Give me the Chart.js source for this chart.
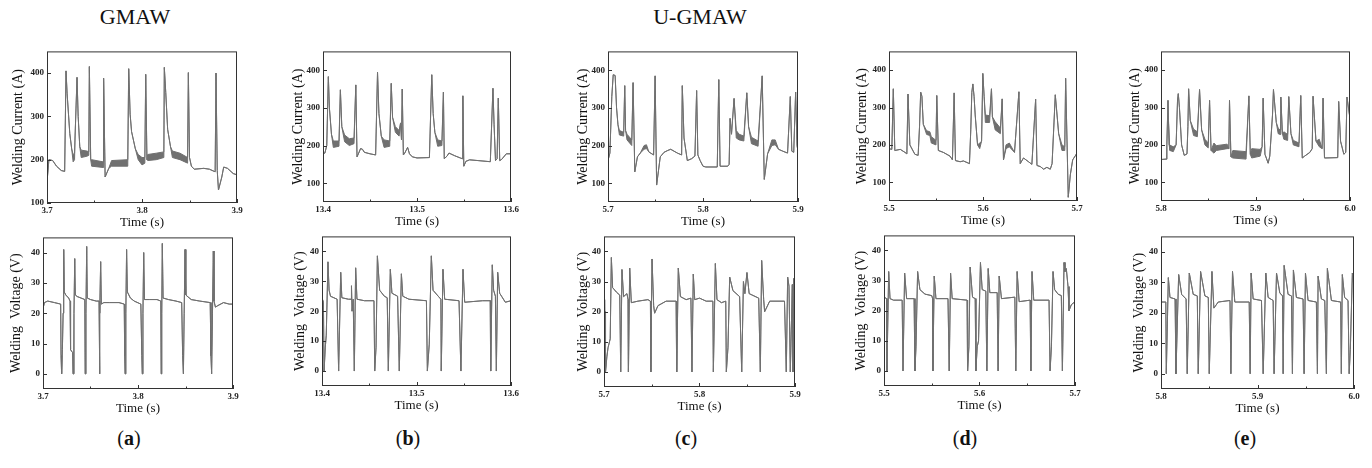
<!DOCTYPE html>
<html>
<head>
<meta charset="utf-8">
<script src="https://cdn.jsdelivr.net/npm/chart.js@4.4.0/dist/chart.umd.min.js"></script>
<style>
  html, body { margin: 0; padding: 0; background: #fff; }
  #page { position: relative; width: 1372px; height: 468px; overflow: hidden; font-family: "Liberation Serif", "DejaVu Serif", serif; color: #111; }
  #page canvas { position: absolute; }
  .head { position: absolute; top: 4px; font-size: 22px; transform: translateX(-50%); white-space: nowrap; }
  .lab { position: absolute; top: 427px; font-size: 20px; transform: translateX(-50%); }
</style>
</head>
<body>
<div id="page">
  <div class="head" style="left:135px">GMAW</div>
  <div class="head" style="left:700px">U-GMAW</div>
  <div class="lab" style="left:129px">(<b>a</b>)</div>
  <div class="lab" style="left:408px">(<b>b</b>)</div>
  <div class="lab" style="left:686px">(<b>c</b>)</div>
  <div class="lab" style="left:965px">(<b>d</b>)</div>
  <div class="lab" style="left:1245px">(<b>e</b>)</div>
</div>
<script>
// tick labels
const curTicks = [100, 200, 300, 400];
const volTicks = [0, 10, 20, 30, 40];
const xTicksA = [3.7, 3.8, 3.9], xMinorA = [3.75, 3.85];
const xTicksB = [13.4, 13.5, 13.6], xMinorB = [13.45, 13.55];
const xTicksC = [5.7, 5.8, 5.9], xMinorC = [5.75, 5.85];
const xTicksD = [5.5, 5.6, 5.7], xMinorD = [5.55, 5.65];
const xTicksE = [5.8, 5.9, 6.0], xMinorE = [5.85, 5.95];

// waveforms: [time, value] or [time, low, high] where the trace is a ripple band
const curA = [[3.700,148],[3.702,200],[3.706,198],[3.710,185],[3.715,175],[3.7186,173],[3.7200,405],[3.7212,352],[3.7240,260],[3.7260,225],[3.7275,195,212],[3.7290,200,215],[3.7295,250],[3.7316,390],[3.7328,300],[3.7345,230],[3.7360,205,222],[3.7420,208,220],[3.7440,210,218],[3.7446,415],[3.7460,200],[3.7470,185,200],[3.7590,182,195],[3.7596,388],[3.7612,160],[3.7650,180],[3.7680,185,198],[3.7850,185,200],[3.7860,410],[3.7875,305],[3.7890,265],[3.7930,225],[3.7960,200,212],[3.8000,188,205],[3.8030,192,205],[3.8039,397],[3.8052,200],[3.8060,198,212],[3.8150,200,215],[3.8230,205,218],[3.8235,413],[3.8250,355],[3.8270,270],[3.8300,230],[3.8320,205,220],[3.8400,200,215],[3.8480,192,205],[3.8488,401],[3.8500,205],[3.8520,185],[3.8550,178],[3.8650,180],[3.8710,178],[3.8770,172],[3.8779,400],[3.8792,175],[3.8805,130],[3.8840,160],[3.8860,183],[3.8900,180],[3.8960,168],[3.9000,165]];
const volA = [[3.7000,21.5],[3.7015,23.5],[3.7050,24],[3.7120,23.5],[3.7186,23],[3.7190,6],[3.7196,0],[3.7204,8],[3.7212,20],[3.7218,41],[3.7224,27],[3.7240,26],[3.7270,25],[3.7285,24],[3.7290,8],[3.7300,7.5],[3.7312,7],[3.7316,0],[3.7326,20],[3.7334,38],[3.7340,26],[3.7360,25.5],[3.7400,25],[3.7440,24.5],[3.7444,0],[3.7452,20],[3.7460,42],[3.7466,25],[3.7500,24.5],[3.7560,24],[3.7590,24],[3.7594,0],[3.7600,20],[3.7607,37],[3.7614,23],[3.7640,23.5],[3.7700,23.5],[3.7800,23.5],[3.7855,23],[3.7860,6],[3.7864,0],[3.7872,20],[3.7880,41],[3.7888,27],[3.7920,25],[3.7960,24],[3.8030,23],[3.8040,6],[3.8045,0],[3.8052,20],[3.8060,40],[3.8068,24.5],[3.8120,24.5],[3.8200,24.5],[3.8240,24],[3.8244,0],[3.8250,20],[3.8256,43],[3.8264,25],[3.8320,24.5],[3.8400,24],[3.8460,23.5],[3.8470,6],[3.8478,0],[3.8486,20],[3.8495,41],[3.8503,26],[3.8560,24.5],[3.8650,24],[3.8760,23.5],[3.8768,6],[3.8775,0],[3.8784,20],[3.8793,40.5],[3.8800,24],[3.8815,22],[3.8840,22.5],[3.8900,23.5],[3.8960,23],[3.9000,23]];
const curB = [[13.400,178],[13.402,180],[13.404,200],[13.4057,383],[13.4068,300],[13.409,230],[13.411,195,212],[13.417,198,212],[13.4185,348],[13.420,250],[13.423,210,228],[13.428,200,218],[13.433,205,220],[13.4349,361],[13.4362,170],[13.438,180],[13.440,192],[13.442,190],[13.444,182],[13.450,178],[13.456,175],[13.458,395],[13.4595,285],[13.462,225],[13.465,195,215],[13.471,198,212],[13.4726,365],[13.474,275],[13.477,235,250],[13.481,225,240],[13.4825,260],[13.4835,215],[13.4843,350],[13.4855,175],[13.487,180],[13.490,195],[13.492,178],[13.495,170],[13.500,167],[13.5132,168],[13.5157,388],[13.5172,285],[13.519,235],[13.522,198,215],[13.5265,200,212],[13.5281,342],[13.529,165],[13.532,172],[13.534,180],[13.540,173],[13.546,167],[13.5482,165],[13.5488,332],[13.5498,145],[13.552,158],[13.556,162],[13.565,160],[13.578,157],[13.5808,352],[13.5820,255],[13.5835,160],[13.5852,165],[13.5865,326],[13.5880,160],[13.590,163],[13.595,178],[13.600,178]];
const volB = [[13.400,24.5],[13.4015,23],[13.4022,0],[13.4035,8],[13.4045,12],[13.4063,36.5],[13.4075,27],[13.409,25],[13.416,24],[13.4176,0],[13.4198,33],[13.421,24.5],[13.428,24],[13.4308,24],[13.4312,28.5],[13.4318,20],[13.4330,24],[13.4342,0],[13.4356,34.5],[13.437,24],[13.445,23.5],[13.455,23.5],[13.4558,0],[13.4572,8],[13.4586,38.5],[13.461,27],[13.466,25],[13.469,24.5],[13.4702,0],[13.4723,34],[13.474,26],[13.480,25],[13.4818,0],[13.484,32.5],[13.4855,25],[13.492,24],[13.5105,23.5],[13.5115,0],[13.5135,9],[13.5157,38.5],[13.5175,27],[13.523,25],[13.5258,24],[13.5262,0],[13.528,34],[13.5298,24],[13.545,23.5],[13.547,0],[13.5492,34],[13.551,23],[13.570,23.5],[13.578,23.5],[13.5785,0],[13.5802,35.5],[13.5816,27],[13.5835,25],[13.5845,0],[13.5859,33],[13.588,26],[13.590,25],[13.594,23],[13.600,23.5]];
const curC = [[5.700,160],[5.702,180],[5.704,330],[5.7055,388],[5.7075,386],[5.709,300],[5.7105,255],[5.712,228,240],[5.7165,225,235],[5.7176,359],[5.7185,240],[5.720,215,230],[5.725,200,215],[5.7264,367],[5.7282,130],[5.731,170],[5.734,180],[5.738,190,200],[5.7405,192,202],[5.743,183],[5.748,175],[5.7496,385],[5.7512,95],[5.755,170],[5.759,182],[5.763,187],[5.766,190],[5.773,180],[5.7775,175],[5.7782,359],[5.780,220],[5.7835,160],[5.788,165],[5.7915,172],[5.7933,346],[5.7946,175],[5.797,160],[5.800,145],[5.803,143],[5.815,143],[5.8166,375],[5.818,145],[5.826,145],[5.8275,150],[5.8285,272],[5.830,230],[5.8327,325],[5.835,220,240],[5.838,215,230],[5.843,212,225],[5.8461,340],[5.848,250],[5.851,205,222],[5.858,198,212],[5.8623,385],[5.8645,110],[5.868,178],[5.8725,200,215],[5.876,202,215],[5.8795,190],[5.884,185],[5.889,180],[5.8919,330],[5.8935,185],[5.8955,182],[5.8975,342],[5.899,200],[5.900,185]];
const volC = [[5.7000,24],[5.7005,0],[5.7008,24],[5.7011,0],[5.7014,20],[5.7018,0],[5.7030,5],[5.7042,8],[5.7065,11],[5.7077,38],[5.7090,28],[5.7130,26.5],[5.7165,25.5],[5.7175,0],[5.7188,34],[5.7205,25],[5.7240,26],[5.7252,24],[5.7256,0],[5.7269,34.5],[5.7286,23],[5.7355,23.5],[5.7460,24],[5.7486,23.5],[5.7490,0],[5.7503,37.5],[5.7520,22],[5.7530,19.5],[5.7565,22],[5.7650,23.5],[5.7755,23.5],[5.7761,0],[5.7778,34.5],[5.7800,25],[5.7860,24],[5.7910,24.5],[5.7921,0],[5.7935,32.5],[5.7950,24],[5.8000,24.5],[5.8070,23.5],[5.8140,23.5],[5.8145,0],[5.8166,36],[5.8183,24],[5.8230,23],[5.8275,23.5],[5.8281,0],[5.8298,8],[5.8316,31.5],[5.8350,27],[5.8420,25],[5.8442,0],[5.8460,30],[5.8475,26],[5.8497,33],[5.8520,26],[5.8620,24.5],[5.8637,0],[5.8651,37],[5.8672,24],[5.8682,20],[5.8735,23.5],[5.8890,23.5],[5.8909,0],[5.8923,31.5],[5.8937,28.5],[5.8951,0],[5.8972,29],[5.8978,0],[5.8985,31],[5.8990,0],[5.8995,33],[5.9000,30]];
const curD = [[5.500,190],[5.503,188],[5.5046,350],[5.5062,185],[5.512,188],[5.5170,180],[5.5190,176],[5.5202,336],[5.5222,200],[5.5275,175],[5.531,172],[5.5325,250],[5.5337,341],[5.5350,330],[5.5365,255],[5.540,228,238],[5.5435,225,235],[5.545,205,222],[5.550,200,212],[5.5508,332],[5.5525,185],[5.5578,180],[5.5649,170],[5.5675,160],[5.5693,339],[5.5707,158],[5.5757,155],[5.5792,157],[5.5856,150],[5.587,240],[5.5881,340],[5.5892,363],[5.5905,330],[5.5917,280],[5.5942,200],[5.5965,190,205],[5.5985,210],[5.5998,391],[5.6012,330],[5.6025,260,280],[5.607,260,278],[5.609,350],[5.610,275],[5.613,240,262],[5.6185,230,245],[5.6204,323],[5.6218,160],[5.6245,190,200],[5.628,195,205],[5.6335,180],[5.6382,342],[5.6396,150],[5.6431,165],[5.6484,155],[5.6520,148],[5.6560,322],[5.6574,145],[5.6610,142],[5.6645,135],[5.6680,140],[5.6716,135],[5.6735,150],[5.6769,334],[5.6805,230],[5.6840,185,200],[5.6870,185,195],[5.6879,378],[5.6907,60],[5.6929,120],[5.6954,160],[5.700,178]];
const volD = [[5.5000,24.5],[5.5028,24],[5.5031,0],[5.5049,33],[5.5063,24],[5.5100,23.5],[5.5190,23.5],[5.5199,0],[5.5216,32.5],[5.5237,24],[5.5315,24],[5.5324,0],[5.5335,8],[5.5352,33],[5.5376,27],[5.5429,25.5],[5.5500,25],[5.5509,24],[5.5512,0],[5.5526,31.5],[5.5544,24],[5.5670,24],[5.5683,0],[5.5697,32.5],[5.5714,24],[5.5870,23.5],[5.5875,0],[5.5889,8],[5.5902,34.5],[5.5927,24.5],[5.5955,24],[5.5962,0],[5.5976,8],[5.5990,10],[5.6010,36],[5.6028,27],[5.6066,26.5],[5.6077,0],[5.6091,34],[5.6108,26],[5.6185,26],[5.6195,0],[5.6206,31.5],[5.6230,24],[5.6370,24.5],[5.6380,0],[5.6394,33],[5.6415,23],[5.6530,23.5],[5.6537,0],[5.6550,33],[5.6568,23.5],[5.6728,23.5],[5.6739,0],[5.6753,8],[5.6770,33],[5.6787,27],[5.6822,25.5],[5.6857,25],[5.6868,0],[5.6885,36],[5.6895,33],[5.6909,34],[5.6927,28],[5.6937,20],[5.6962,22],[5.7000,23]];
const curE = [[5.800,161],[5.8053,162],[5.8062,200],[5.8074,319],[5.8086,200],[5.8095,185,200],[5.8130,182,195],[5.8160,200],[5.8175,320],[5.8183,337],[5.8195,300],[5.8218,200],[5.8246,172],[5.8275,176],[5.8285,250],[5.8292,350],[5.8310,265],[5.8345,225,242],[5.8385,222,235],[5.8408,348],[5.8430,240],[5.8465,200,215],[5.8500,192,205],[5.8514,319],[5.8530,185],[5.8560,178,205],[5.8585,185,198],[5.8700,190,202],[5.8718,190],[5.8725,319],[5.8740,168],[5.8760,165,185],[5.8900,162,182],[5.8930,331],[5.8945,175],[5.8960,165,190],[5.9050,170,188],[5.9070,195],[5.9081,325],[5.9100,175],[5.9134,151],[5.9151,170],[5.9180,280],[5.9190,348],[5.9220,260],[5.9240,230,245],[5.9260,228,240],[5.9268,328],[5.9285,230],[5.9300,215,235],[5.9340,212,228],[5.9352,329],[5.9375,230],[5.9400,200,212],[5.9460,195,205],[5.9479,332],[5.9495,165],[5.9520,170],[5.9575,180],[5.9600,190],[5.9609,330],[5.9640,210],[5.9675,195,215],[5.9705,190],[5.9715,325],[5.9730,165],[5.9870,166],[5.9880,316],[5.9900,210],[5.9935,175],[5.9955,180],[5.9968,328],[6.000,270]];
const volE = [[5.8000,23.5],[5.8050,23.5],[5.8055,0],[5.8076,31.5],[5.8093,25],[5.8146,24.5],[5.8155,0],[5.8183,32.5],[5.8214,26],[5.8260,24.5],[5.8272,0],[5.8293,33],[5.8334,26],[5.8376,25.5],[5.8386,0],[5.8410,33.5],[5.8455,25.5],[5.8490,25],[5.8500,0],[5.8528,33.5],[5.8548,21.5],[5.8593,23.5],[5.8715,24],[5.8724,0],[5.8741,33.5],[5.8765,23.5],[5.8914,23.5],[5.8924,0],[5.8934,33],[5.8955,24.5],[5.9041,24],[5.9059,0],[5.9086,33],[5.9110,25],[5.9162,24],[5.9172,0],[5.9197,33],[5.9231,26.5],[5.9259,25.5],[5.9266,0],[5.9276,35.5],[5.9317,26],[5.9352,25.5],[5.9362,0],[5.9372,34],[5.9403,25],[5.9472,24.5],[5.9483,0],[5.9497,33],[5.9524,24],[5.9610,23.5],[5.9621,0],[5.9628,32],[5.9662,24.5],[5.9697,24],[5.9714,0],[5.9724,34.5],[5.9766,24],[5.9862,23.5],[5.9869,0],[5.9879,32.5],[5.9903,25],[5.9938,24],[5.9950,0],[5.9962,8],[5.9983,33],[6.0000,28]];

const CUR_TITLE = 'Welding Current (A)';
const VOL_TITLE = 'Welding  Voltage (V)';

const panels = [
  { data: curA, xt: xTicksA, xm: xMinorA, y: [100, 450], yt: curTicks, title: CUR_TITLE },
  { data: volA, xt: xTicksA, xm: xMinorA, y: [-5, 45], yt: volTicks, title: VOL_TITLE },
  { data: curB, xt: xTicksB, xm: xMinorB, y: [50, 450], yt: curTicks, title: CUR_TITLE },
  { data: volB, xt: xTicksB, xm: xMinorB, y: [-5, 45], yt: volTicks, title: VOL_TITLE },
  { data: curC, xt: xTicksC, xm: xMinorC, y: [50, 450], yt: curTicks, title: CUR_TITLE },
  { data: volC, xt: xTicksC, xm: xMinorC, y: [-5, 45], yt: volTicks, title: VOL_TITLE },
  { data: curD, xt: xTicksD, xm: xMinorD, y: [50, 450], yt: curTicks, title: CUR_TITLE },
  { data: volD, xt: xTicksD, xm: xMinorD, y: [-5, 45], yt: volTicks, title: VOL_TITLE },
  { data: curE, xt: xTicksE, xm: xMinorE, y: [50, 450], yt: curTicks, title: CUR_TITLE },
  { data: volE, xt: xTicksE, xm: xMinorE, y: [-5, 45], yt: volTicks, title: VOL_TITLE }
];

// plot box on the page [left, top, width, height] and distance of the y title from the box
const boxes = [
  [47, 49, 190, 154, 29], [43, 235, 190, 154, 27],
  [323, 49, 188, 153, 25], [322, 234, 189, 152, 22],
  [608, 49, 190, 153, 25], [604, 234, 191, 153, 21],
  [889, 49, 188, 152, 27], [884, 233, 191, 153, 23],
  [1161, 49, 189, 152, 26], [1161, 234, 193, 155, 22]
];

const GRAY = '#707070';
const SERIF = '"Liberation Serif", "DejaVu Serif", serif';
Chart.defaults.font.family = SERIF;

// box round the plot and small inward ticks
const frame = {
  id: 'frame',
  afterDraw(chart, args, opts) {
    const { ctx, chartArea: a, scales: { x, y } } = chart;
    ctx.save();
    ctx.strokeStyle = '#333';
    ctx.lineWidth = 1;
    ctx.strokeRect(a.left + 0.5, a.top + 0.5, a.width - 1, a.height - 1);
    ctx.beginPath();
    opts.xt.forEach(v => { const px = Math.round(x.getPixelForValue(v)) + 0.5; ctx.moveTo(px, a.bottom); ctx.lineTo(px, a.bottom - 4); });
    opts.xm.forEach(v => { const px = Math.round(x.getPixelForValue(v)) + 0.5; ctx.moveTo(px, a.bottom); ctx.lineTo(px, a.bottom - 2.5); });
    opts.yt.forEach(v => { const py = Math.round(y.getPixelForValue(v)) + 0.5; ctx.moveTo(a.left, py); ctx.lineTo(a.left + 4, py); });
    ctx.stroke();
    ctx.restore();
  }
};

const page = document.getElementById('page');

panels.forEach((p, i) => {
  const [bl, bt, bw, bh, off] = boxes[i];
  const yw = off + 8, padT = 6, padR = 12, xh = 27;
  const cv = document.createElement('canvas');
  cv.width = yw + bw + padR;
  cv.height = padT + bh + xh;
  cv.style.left = (bl - yw) + 'px';
  cv.style.top = (bt - padT) + 'px';
  page.appendChild(cv);

  const x0 = p.xt[0], x1 = p.xt[p.xt.length - 1];
  new Chart(cv, {
    type: 'line',
    data: {
      datasets: [
        { data: p.data.map(r => ({ x: r[0], y: r.length > 2 ? r[2] : r[1] })), borderColor: GRAY, borderWidth: 1, pointRadius: 0, fill: false },
        { data: p.data.map(r => ({ x: r[0], y: r[1] })), borderColor: GRAY, borderWidth: 1, pointRadius: 0, fill: '-1', backgroundColor: GRAY }
      ]
    },
    options: {
      responsive: false,
      animation: false,
      devicePixelRatio: 1,
      layout: { padding: { top: padT, right: padR, left: 0, bottom: 0 } },
      plugins: {
        legend: { display: false },
        tooltip: { enabled: false },
        frame: { xt: p.xt, xm: p.xm, yt: p.yt }
      },
      scales: {
        x: {
          type: 'linear', min: x0, max: x1,
          afterBuildTicks: s => { s.ticks = p.xt.map(v => ({ value: v })); },
          afterFit: s => { s.height = xh; },
          grid: { display: false, drawTicks: false },
          border: { display: false },
          ticks: { padding: 2, autoSkip: false, maxRotation: 0, color: '#222', font: { family: SERIF, size: 9, weight: 'bold' }, callback: v => v.toFixed(1) },
          title: { display: true, text: 'Time (s)', color: '#111', padding: 0, font: { family: SERIF, size: 13 } }
        },
        y: {
          min: p.y[0], max: p.y[1],
          afterBuildTicks: s => { s.ticks = p.yt.map(v => ({ value: v })); },
          afterFit: s => { s.width = yw; },
          grid: { display: false, drawTicks: false },
          border: { display: false },
          ticks: { padding: 3, color: '#222', font: { family: SERIF, size: 9, weight: 'bold' } },
          title: { display: true, text: p.title, color: '#111', padding: 0, font: { family: SERIF, size: 14 } }
        }
      }
    },
    plugins: [frame]
  });
});
</script>
</body>
</html>
